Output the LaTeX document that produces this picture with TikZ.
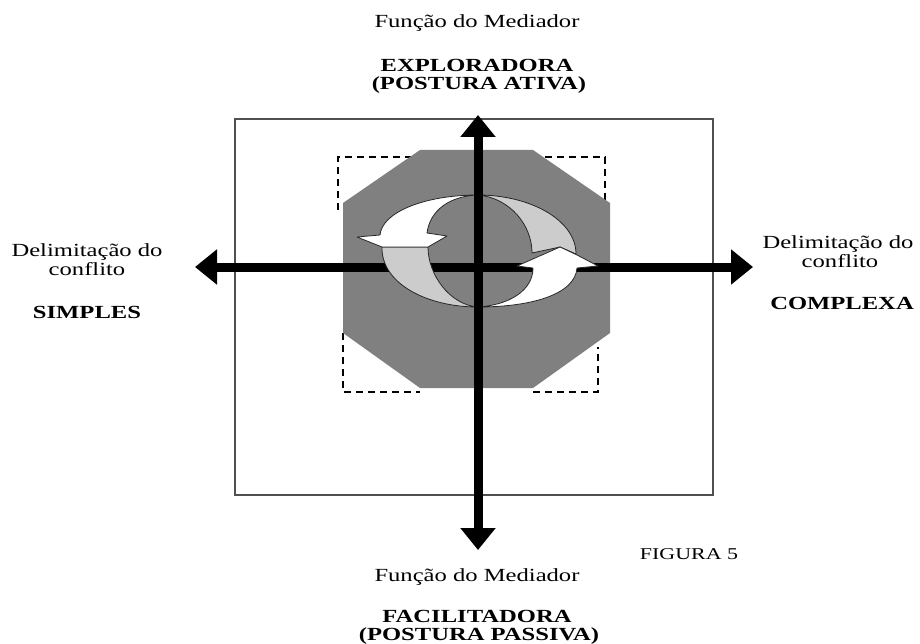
\documentclass[tikz,border=0pt]{standalone}
\usepackage{fontspec}
\setmainfont{Liberation Serif}
\newfontfamily\rf[FakeStretch=1.33]{Liberation Serif}
\usetikzlibrary{arrows.meta}
\definecolor{octgray}{HTML}{808080}
\definecolor{lightg}{HTML}{CCCCCC}
\definecolor{boxgray}{HTML}{505050}
\begin{document}
\begin{tikzpicture}[x=1pt,y=-1pt,
  lbl/.style={font=\rf\fontsize{18.5}{19}\selectfont, inner sep=0pt, anchor=base},
  blbl/.style={font=\rf\bfseries\fontsize{18.5}{19}\selectfont, inner sep=0pt, anchor=base},
  figlbl/.style={font=\rf\fontsize{16.5}{18}\selectfont, inner sep=0pt, anchor=base},
  axis/.style={line width=9pt, {Triangle[length=22pt,width=34pt]}-{Triangle[length=22pt,width=34pt]}},
  dashcorner/.style={line width=1.3pt, dash pattern=on 7pt off 5pt},
  crescent/.style={draw=black!85, line width=0.8pt, line join=round},
  octagon/.style={fill=octgray},
  framebox/.style={draw=boxgray, line width=2.5pt}
]
\useasboundingbox (0,0) rectangle (920,644);

% dashed corner outlines
\draw[dashcorner] (338,210) -- (338,157) -- (420,157);
\draw[dashcorner] (533,157) -- (605,157) -- (605,212);
\draw[dashcorner] (343,333) -- (343,392) -- (420,392);
\draw[dashcorner] (533,392) -- (598,392) -- (598,347);

% octagon
\path[octagon] (420,150) -- (533,150) -- (610,203) -- (610,333) -- (533,388) -- (420,388) -- (343,333) -- (343,203) -- cycle;

% outer frame
\draw[framebox] (235,119) rectangle (713,495);

% axes end points
\coordinate (N) at (478,115);
\coordinate (S) at (478,550);
\coordinate (W) at (195,267);
\coordinate (E) at (753,267);

\draw[axis] (W) -- (E);

% left circular arrow
\filldraw[crescent, fill=lightg] (382,247) .. controls (381,283) and (426,307) .. (478,307)
   .. controls (450,305) and (428,275) .. (428,247) -- cycle;
\filldraw[crescent, fill=white] (478,195) .. controls (425,195) and (382,212) .. (380,235)
   -- (357,237) -- (382,247) -- (428,247) -- (447,236) -- (427,233)
   .. controls (430,210) and (450,196) .. (478,195) -- cycle;

% right circular arrow
\filldraw[crescent, fill=lightg] (478,195) .. controls (530,195) and (576,220) .. (576,254)
   -- (560,247) -- (532,253) .. controls (532,225) and (510,198) .. (478,195) -- cycle;
\filldraw[crescent, fill=white] (517,266) -- (560,247) -- (577,255) -- (598,266) -- (577,268)
   .. controls (575,295) and (530,307) .. (478,307)
   .. controls (510,305) and (533,290) .. (533,268) -- cycle;

\draw[axis] (S) -- (N);

% texts
\node[lbl]  (tf) at (477,28)  {Função do Mediador};
\node[blbl] (t1) at (477,72)  {EXPLORADORA};
\node[blbl] (t2) at (479,90)  {(POSTURA ATIVA)};

\node[lbl]  (bf) at (477,581) {Função do Mediador};
\node[blbl] (b1) at (477,622) {FACILITADORA};
\node[blbl] (b2) at (479,640) {(POSTURA PASSIVA)};

\node[lbl]  (l1) at (87,256)  {Delimitação do};
\node[lbl]  (l2) at (87,275)  {conflito};
\node[blbl] (l3) at (87,318)  {SIMPLES};

\node[lbl]  (r1) at (838,248) {Delimitação do};
\node[lbl]  (r2) at (840,267) {conflito};
\node[blbl] (r3) at (842,309) {COMPLEXA};

\node[figlbl] (fig) at (689,559) {FIGURA 5};
\end{tikzpicture}
\end{document}
